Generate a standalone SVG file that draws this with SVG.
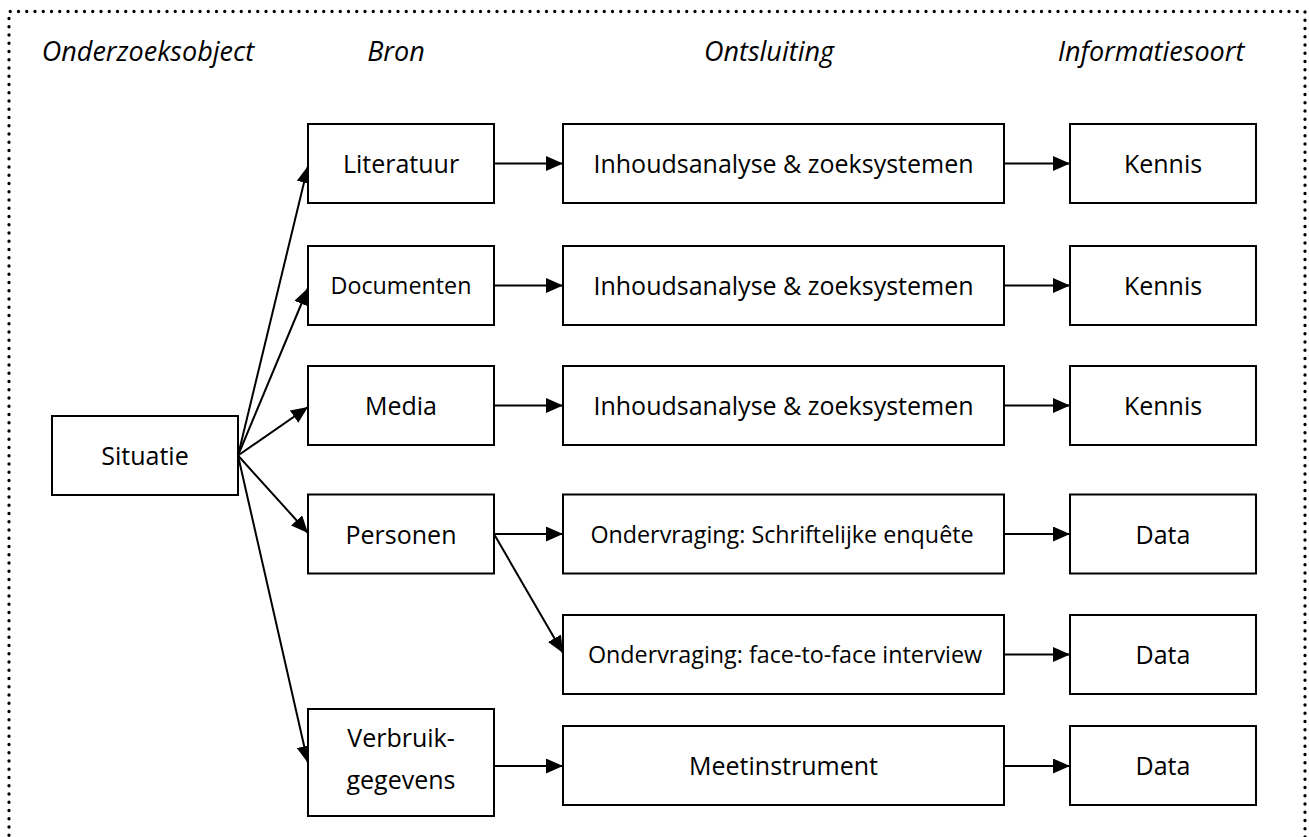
<svg xmlns="http://www.w3.org/2000/svg" width="1309" height="837" viewBox="0 0 1309 837">
  <style>
    .box { fill: #ffffff; stroke: #000000; stroke-width: 2; }
    .lbl { font-family: "Open Sans", "Noto Sans", sans-serif; font-size: 25px; fill: #000000; text-anchor: middle; }
    .sm { font-size: 23.3px; }
    .hdr { font-family: "Open Sans", "Noto Sans", sans-serif; font-size: 27px; font-style: italic; fill: #000000; text-anchor: middle; }
    .edge { fill: none; stroke: #000000; stroke-width: 2; marker-end: url(#arrow); }
    .frame { fill: none; stroke: #000000; stroke-width: 3.3; stroke-linecap: round; stroke-dasharray: 0 8.25; }
  </style>
  <defs>
    <marker id="arrow" markerUnits="userSpaceOnUse" markerWidth="17" markerHeight="15" refX="17" refY="7.5" orient="auto">
      <path d="M0,0 L17,7.5 L0,15 Z" fill="#000000"/>
    </marker>
  </defs>

  <rect width="1309" height="837" fill="#ffffff"/>

  <!-- dotted frame, open at the bottom edge of the page -->
  <path class="frame" d="M9,860 L9,11.5 L1305,11.5 L1305,860"/>

  <!-- column headings -->
  <g id="headings">
    <text class="hdr" x="148" y="61">Onderzoeksobject</text>
    <text class="hdr" x="396" y="61">Bron</text>
    <text class="hdr" x="769" y="61">Ontsluiting</text>
    <text class="hdr" x="1151" y="61">Informatiesoort</text>
  </g>

  <!-- connectors -->
  <g id="connectors">
    <line class="edge" x1="238" y1="455.5" x2="308" y2="166"/>
    <line class="edge" x1="238" y1="455.5" x2="308" y2="288"/>
    <line class="edge" x1="238" y1="455.5" x2="308" y2="407"/>
    <line class="edge" x1="238" y1="455.5" x2="308" y2="533"/>
    <line class="edge" x1="238" y1="455.5" x2="308" y2="763"/>

    <line class="edge" x1="494" y1="163.5" x2="563" y2="163.5"/>
    <line class="edge" x1="494" y1="285.5" x2="563" y2="285.5"/>
    <line class="edge" x1="494" y1="405.5" x2="563" y2="405.5"/>
    <line class="edge" x1="494" y1="534" x2="563" y2="534"/>
    <line class="edge" x1="494" y1="534" x2="563" y2="653"/>
    <line class="edge" x1="494" y1="766" x2="563" y2="766"/>

    <line class="edge" x1="1004" y1="163.5" x2="1070" y2="163.5"/>
    <line class="edge" x1="1004" y1="285.5" x2="1070" y2="285.5"/>
    <line class="edge" x1="1004" y1="405.5" x2="1070" y2="405.5"/>
    <line class="edge" x1="1004" y1="534" x2="1070" y2="534"/>
    <line class="edge" x1="1004" y1="654.5" x2="1070" y2="654.5"/>
    <line class="edge" x1="1004" y1="766" x2="1070" y2="766"/>
  </g>

  <!-- object -->
  <g id="situatie">
    <rect class="box" x="52" y="416" width="186" height="79"/>
    <text class="lbl" x="145" y="465">Situatie</text>
  </g>

  <!-- sources -->
  <g id="literatuur">
    <rect class="box" x="308" y="124" width="186" height="79"/>
    <text class="lbl" x="401" y="173">Literatuur</text>
  </g>
  <g id="documenten">
    <rect class="box" x="308" y="246" width="186" height="79"/>
    <text class="lbl sm" x="401" y="293.5">Documenten</text>
  </g>
  <g id="media">
    <rect class="box" x="308" y="366" width="186" height="79"/>
    <text class="lbl" x="401" y="415">Media</text>
  </g>
  <g id="personen">
    <rect class="box" x="308" y="494.5" width="186" height="79"/>
    <text class="lbl" x="401" y="543.5">Personen</text>
  </g>
  <g id="verbruikgegevens">
    <rect class="box" x="308" y="709" width="186" height="107"/>
    <text class="lbl" x="401" y="747">Verbruik-</text>
    <text class="lbl" x="401" y="789">gegevens</text>
  </g>

  <!-- access methods -->
  <g id="ontsluiting-literatuur">
    <rect class="box" x="563" y="124" width="441" height="79"/>
    <text class="lbl" x="783.5" y="173">Inhoudsanalyse &amp; zoeksystemen</text>
  </g>
  <g id="ontsluiting-documenten">
    <rect class="box" x="563" y="246" width="441" height="79"/>
    <text class="lbl" x="783.5" y="295">Inhoudsanalyse &amp; zoeksystemen</text>
  </g>
  <g id="ontsluiting-media">
    <rect class="box" x="563" y="366" width="441" height="79"/>
    <text class="lbl" x="783.5" y="415">Inhoudsanalyse &amp; zoeksystemen</text>
  </g>
  <g id="enquete">
    <rect class="box" x="563" y="494.5" width="441" height="79"/>
    <text class="lbl sm" x="782" y="542.5">Ondervraging: Schriftelijke enquête</text>
  </g>
  <g id="interview">
    <rect class="box" x="563" y="615" width="441" height="79"/>
    <text class="lbl sm" x="785" y="663">Ondervraging: face-to-face interview</text>
  </g>
  <g id="meetinstrument">
    <rect class="box" x="563" y="726" width="441" height="79"/>
    <text class="lbl" x="783.5" y="775">Meetinstrument</text>
  </g>

  <!-- information types -->
  <g id="kennis-1">
    <rect class="box" x="1070" y="124" width="186" height="79"/>
    <text class="lbl" x="1163" y="173">Kennis</text>
  </g>
  <g id="kennis-2">
    <rect class="box" x="1070" y="246" width="186" height="79"/>
    <text class="lbl" x="1163" y="295">Kennis</text>
  </g>
  <g id="kennis-3">
    <rect class="box" x="1070" y="366" width="186" height="79"/>
    <text class="lbl" x="1163" y="415">Kennis</text>
  </g>
  <g id="data-1">
    <rect class="box" x="1070" y="494.5" width="186" height="79"/>
    <text class="lbl" x="1163" y="543.5">Data</text>
  </g>
  <g id="data-2">
    <rect class="box" x="1070" y="615" width="186" height="79"/>
    <text class="lbl" x="1163" y="664">Data</text>
  </g>
  <g id="data-3">
    <rect class="box" x="1070" y="726" width="186" height="79"/>
    <text class="lbl" x="1163" y="775">Data</text>
  </g>
</svg>
